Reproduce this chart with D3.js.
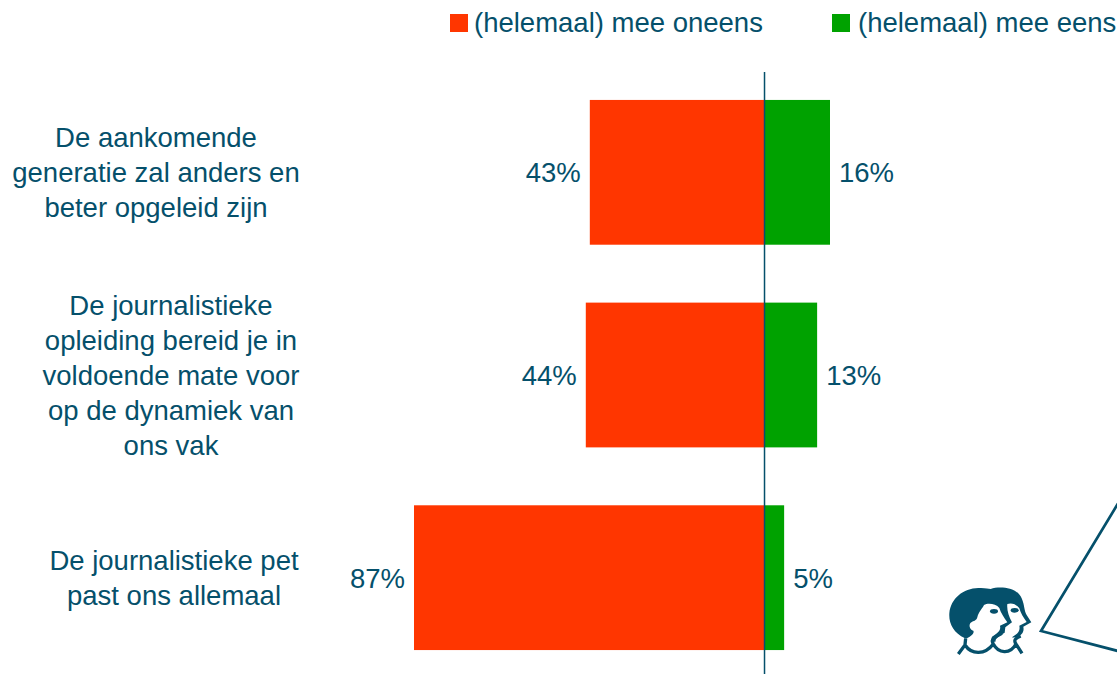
<!DOCTYPE html>
<html>
<head>
<meta charset="utf-8">
<script src="https://cdn.jsdelivr.net/npm/d3@7"></script>
<style>
  html, body { margin: 0; padding: 0; background: #fff; overflow: hidden; }
  text { font-family: "Liberation Sans", Arial, sans-serif; fill: #05506b; }
</style>
</head>
<body>
<div id="chart"></div>
<script>
const categories = [
  ['De aankomende', 'generatie zal anders en', 'beter opgeleid zijn'],
  ['De journalistieke', 'opleiding bereid je in', 'voldoende mate voor', 'op de dynamiek van', 'ons vak'],
  ['De journalistieke pet', 'past ons allemaal']
];
const oneens = [43.3, 44.3, 87];
const eens = [16.4, 13.2, 5];
const legendLabels = ['(helemaal) mee oneens', '(helemaal) mee eens'];

const RED = '#ff3600', GREEN = '#00a200', INK = '#05506b';
const FONT_SIZE = 27.5;
const LABEL_CENTERS = [156, 171, 174];

const svg = d3.select('#chart').append('svg')
  .attr('width', 1117)
  .attr('height', 674);

const x = d3.scaleLinear().domain([-87, 16.4]).range([414, 830]);
const y = d3.scaleBand().domain(d3.range(categories.length))
  .range([71, 679]).paddingInner(0.2857).paddingOuter(0.1428);
const pct = v => d3.format('.0f')(v) + '%';

// bars
svg.selectAll('rect.oneens').data(oneens).enter().append('rect')
  .attr('class', 'oneens')
  .attr('x', d => x(-d)).attr('y', (d, i) => y(i))
  .attr('width', d => x(0) - x(-d)).attr('height', y.bandwidth())
  .attr('fill', RED);
svg.selectAll('rect.eens').data(eens).enter().append('rect')
  .attr('class', 'eens')
  .attr('x', x(0)).attr('y', (d, i) => y(i))
  .attr('width', d => x(d) - x(0)).attr('height', y.bandwidth())
  .attr('fill', GREEN);

// zero line
svg.append('line')
  .attr('x1', x(0) + 0.5).attr('x2', x(0) + 0.5).attr('y1', 72).attr('y2', 674)
  .attr('stroke', INK).attr('stroke-width', 1.5);

// value labels
svg.selectAll('text.v1').data(oneens).enter().append('text')
  .attr('class', 'v1')
  .attr('x', d => x(-d) - 9).attr('y', (d, i) => y(i) + y.bandwidth() / 2 + 10)
  .attr('text-anchor', 'end').attr('font-size', FONT_SIZE).text(pct);
svg.selectAll('text.v2').data(eens).enter().append('text')
  .attr('class', 'v2')
  .attr('x', d => x(d) + 9).attr('y', (d, i) => y(i) + y.bandwidth() / 2 + 10)
  .attr('font-size', FONT_SIZE).text(pct);

// category labels
categories.forEach((lines, i) => {
  const cy = y(i) + y.bandwidth() / 2;
  lines.forEach((line, j) => {
    svg.append('text')
      .attr('x', LABEL_CENTERS[i]).attr('y', cy + (j - (lines.length - 1) / 2) * 35 + 10)
      .attr('text-anchor', 'middle').attr('font-size', FONT_SIZE).text(line);
  });
});

// legend
[[450, RED, 474], [832, GREEN, 858]].forEach(([bx, col, tx], i) => {
  svg.append('rect').attr('x', bx).attr('y', 14).attr('width', 18).attr('height', 18).attr('fill', col);
  svg.append('text').attr('x', tx).attr('y', 32).attr('font-size', FONT_SIZE).text(legendLabels[i]);
});

// speech bubble edge
svg.append('path')
  .attr('d', 'M1118 503.5 L1041 631 L1118 651')
  .attr('fill', 'none').attr('stroke', INK).attr('stroke-width', 2.7);

// logo
const logo = svg.append('g').attr('transform', 'translate(920,490) scale(0.3333)');
logo.append('path').attr('fill', INK)
  .attr('d', 'M135 445 C100 428 86 400 88 370 C92 325 130 295 175 294 C195 293 205 296 212 297 C240 288 292 292 305 325 C314 345 312 362 320 375 L334 397 L310 410 C314 428 302 436 290 442 L250 445 L225 455 Z');
logo.append('path').attr('fill', '#fff')
  .attr('d', 'M192 345 C205 338 228 342 238 354 C242 368 252 382 262 397 L240 407 C244 422 232 430 216 440 L210 458 L142 458 L140 445 C150 440 165 430 160 422 C150 420 145 405 152 398 C162 392 170 392 172 382 C176 365 188 355 192 345 Z');
logo.append('path').attr('fill', '#fff')
  .attr('d', 'M262 342 C275 337 290 343 298 355 C302 370 310 382 320 396 L298 407 C302 425 290 433 278 440 L270 458 L228 458 C222 445 238 438 254 428 L256 412 L276 397 C266 378 260 360 262 342 Z');
logo.append('ellipse').attr('cx', 222).attr('cy', 364).attr('rx', 12).attr('ry', 7).attr('fill', INK);
logo.append('ellipse').attr('cx', 284).attr('cy', 361).attr('rx', 12).attr('ry', 7).attr('fill', INK);
logo.append('path').attr('fill', 'none').attr('stroke', INK).attr('stroke-width', 10)
  .attr('d', 'M115 492 L135 465 L137 445 M135 465 C155 495 195 495 220 462 C235 490 270 495 288 462 L306 490 M220 462 C212 450 222 442 246 430 M288 462 C280 450 286 445 302 438');
</script>
</body>
</html>
